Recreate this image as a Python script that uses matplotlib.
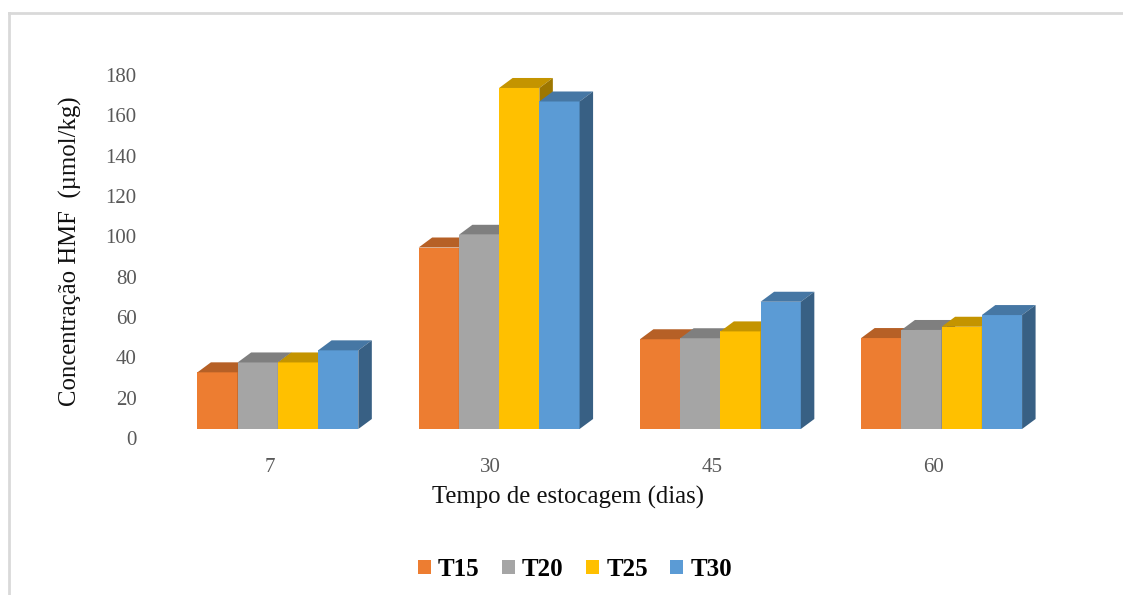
import numpy as np
import matplotlib.pyplot as plt
from matplotlib.patches import Patch, Polygon
from matplotlib.lines import Line2D
from matplotlib.transforms import offset_copy, IdentityTransform
from matplotlib.colors import to_rgb

dias = ['7', '30', '45', '60']
series = ['T15', 'T20', 'T25', 'T30']
t15 = [28.1, 90.0, 44.5, 45.1]
t20 = [33.0, 96.3, 45.0, 49.1]
t25 = [33.0, 169.1, 48.4, 50.7]
t30 = [39.0, 162.4, 63.1, 56.5]
yticks = [0, 20, 40, 60, 80, 100, 120, 140, 160, 180]
cores = ['#ED7D31', '#A5A5A5', '#FFC000', '#5B9BD5']

plt.rcParams['font.family'] = ['Liberation Serif', 'DejaVu Serif']

W, H = 1123, 595
fig = plt.figure(figsize=(W/100, H/100), dpi=100)
ax = fig.add_axes([158.75/W, 1-438/H, 885/W, 363/H])
ax.set_xlim(-0.5, 3.5)
ax.set_ylim(0, 180)

# moldura cinza clara
fig.add_artist(Line2D([9/W, 1], [1-13/H, 1-13/H], color='#D9D9D9', lw=2))
fig.add_artist(Line2D([9/W, 9/W], [0, 1-13/H], color='#D9D9D9', lw=2))

larg = 1/5.5
x = np.arange(len(dias))
# efeito 3D: face frontal deslocada, topo e lateral com profundidade em pixels
frente = offset_copy(ax.transData, fig=fig, x=8.5, y=9, units='dots')
fundo = offset_copy(ax.transData, fig=fig, x=8.5+13.5, y=9+10, units='dots')

dados = [t15, t20, t25, t30]
for i, vals in enumerate(dados):
    pos = x + (i - 1.5)*larg
    base = np.array(to_rgb(cores[i]))
    ax.bar(pos, vals, width=larg, color=cores[i], transform=frente,
           zorder=3+i, clip_on=False, linewidth=0)
    for xc, v in zip(pos, vals):
        x0, x1 = xc - larg/2, xc + larg/2
        f0, f1, fb = frente.transform([(x0, v), (x1, v), (x1, 0)])
        b0, b1, bb = fundo.transform([(x0, v), (x1, v), (x1, 0)])
        topo = Polygon([f0, f1, b1, b0], closed=True, transform=IdentityTransform(),
                       facecolor=base*0.77, linewidth=0, zorder=3+i, clip_on=False)
        lado = Polygon([f1, fb, bb, b1], closed=True, transform=IdentityTransform(),
                       facecolor=base*0.62, linewidth=0, zorder=3+i, clip_on=False)
        ax.add_patch(topo)
        ax.add_patch(lado)

ax.set_xlim(-0.5, 3.5)
ax.set_ylim(0, 180)
ax.set_xticks(x)
ax.set_xticklabels(dias)
ax.set_yticks(yticks)
ax.tick_params(length=0, labelsize=15, labelcolor='#595959')
ax.tick_params(axis='x', pad=14.5)
ax.tick_params(axis='y', pad=16)
for s in ax.spines.values():
    s.set_visible(False)

fig.text(70/W, 1-251/H, 'Concentração HMF  (µmol/kg)', rotation=90,
         ha='center', va='center', fontsize=17.8, color='#111111')
fig.text(568/W, 1-497/H, 'Tempo de estocagem (dias)', ha='center', va='center',
         fontsize=17.8, color='#111111')

handles = [Patch(facecolor=c, edgecolor='none') for c in cores]
fig.legend(handles, series, loc='center', bbox_to_anchor=(575/W, 1-569/H), ncol=4,
           frameon=False, prop={'weight': 'bold', 'size': 18},
           handlelength=0.5, handleheight=0.5, handletextpad=0.3, columnspacing=0.9)

fig.savefig('out.png', dpi=100)
